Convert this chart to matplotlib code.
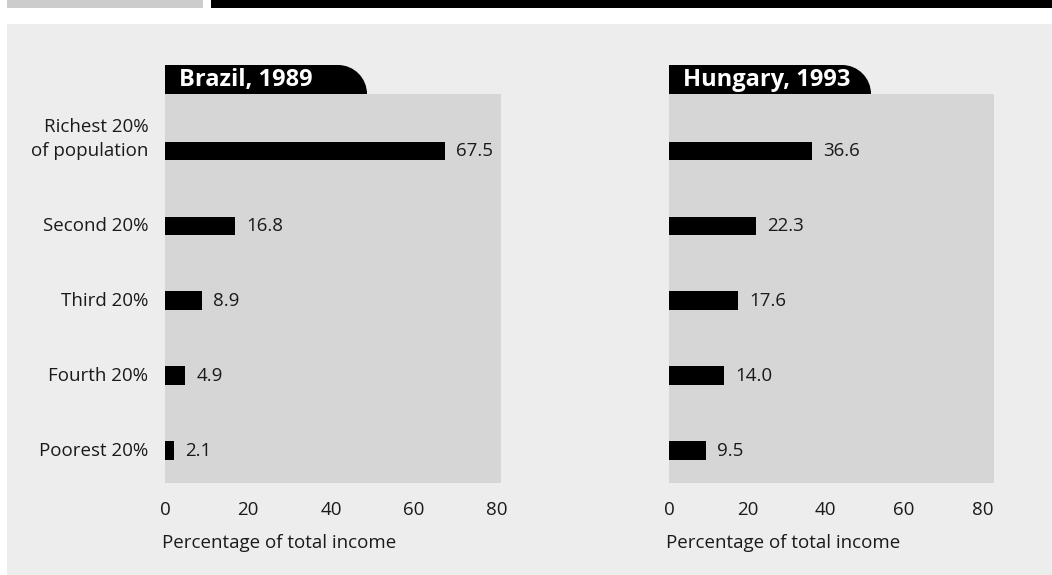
import matplotlib
matplotlib.use("Agg")
import matplotlib.pyplot as plt
from matplotlib.path import Path
from matplotlib.patches import PathPatch, Rectangle
from matplotlib.transforms import Affine2D, blended_transform_factory

# Income share by population quintile
categories = ["Richest 20%\nof population", "Second 20%", "Third 20%", "Fourth 20%", "Poorest 20%"]
brazil_1989 = [67.5, 16.8, 8.9, 4.9, 2.1]
hungary_1993 = [36.6, 22.3, 17.6, 14.0, 9.5]
panel_titles = ["Brazil, 1989", "Hungary, 1993"]
x_ticks = [0, 20, 40, 60, 80]
x_label = "Percentage of total income"

W, H = 1052, 575
FONT = ["Open Sans", "DejaVu Sans"]
plt.rcParams["font.family"] = FONT

PANEL_BG = "#ededed"
PLOT_BG = "#d6d6d6"
TEXT = "#1a1a1a"
FS = 13.5

fig = plt.figure(figsize=(W / 100, H / 100), dpi=100)
fig.patch.set_facecolor("white")

px = Affine2D().scale(1 / W, 1 / H) + fig.transFigure  # pixel units, origin bottom-left


def top_px(y):
    return H - y


# Header strip and background panel (behind the axes)
for rect in [Rectangle((7, top_px(8)), 196, 8, facecolor="#cccccc"),
             Rectangle((211, top_px(8)), W - 211, 8, facecolor="black"),
             Rectangle((7, top_px(575)), W - 7, 575 - 24, facecolor=PANEL_BG)]:
    rect.set_transform(px)
    rect.set_edgecolor("none")
    rect.set_zorder(-10)
    fig.patches.append(rect)

# Axes boxes (pixel extents)
boxes = [(165, 501, 94, 483, 81), (669, 994, 94, 483, 83)]
series = [brazil_1989, hungary_1993]
ypos = list(range(len(categories)))

for i, ((x0, x1, yt, yb, xmax), values, title) in enumerate(zip(boxes, series, panel_titles)):
    ax = fig.add_axes([x0 / W, (H - yb) / H, (x1 - x0) / W, (yb - yt) / H])
    ax.set_facecolor(PLOT_BG)
    ax.barh(ypos, values, height=0.25, color="black", zorder=3)
    ax.set_xlim(0, xmax)
    ax.set_ylim(4.43, -0.76)
    for s in ax.spines.values():
        s.set_visible(False)
    ax.set_xticks(x_ticks)
    ax.set_xticklabels([str(t) for t in x_ticks], fontsize=FS, color=TEXT)
    ax.tick_params(axis="x", length=0, pad=13)
    ax.set_yticks([])

    # Category labels: last line centred on the bar, earlier lines stacked above
    if i == 0:
        for y, label in zip(ypos, categories):
            lines = label.split("\n")
            n = len(lines)
            for j, line in enumerate(lines):
                ax.annotate(line, xy=(0, y), xycoords=("axes fraction", "data"),
                            xytext=(-12, (n - 1 - j) * 17.5), textcoords="offset points",
                            ha="right", va="center", fontsize=FS, color=TEXT)

    # Value labels
    for y, v in zip(ypos, values):
        ax.annotate(f"{v:.1f}", xy=(v, y), xytext=(8, 0), textcoords="offset points",
                    va="center", ha="left", fontsize=FS, color=TEXT, zorder=4)

    # Axis caption
    tr = blended_transform_factory(ax.transAxes, px)
    ax.text(-0.008, top_px(543), x_label, transform=tr, ha="left", va="center",
            fontsize=FS, color=TEXT)

    # Title tab with rounded top-right corner
    tab_w, tab_h, r = 202, 29, 29
    L, B = x0, top_px(yt)
    T = B + tab_h
    R = L + tab_w
    k = 0.5523 * r
    verts = [(L, B), (L, T), (R - r, T),
             (R - r + k, T), (R, B + k), (R, B),
             (L, B)]
    codes = [Path.MOVETO, Path.LINETO, Path.LINETO,
             Path.CURVE4, Path.CURVE4, Path.CURVE4,
             Path.CLOSEPOLY]
    tab = PathPatch(Path(verts, codes), transform=px, facecolor="black", edgecolor="none", zorder=5)
    fig.patches.append(tab)
    fig.text((L + 14) / W, (B + 8) / H, title, transform=fig.transFigure,
             color="white", fontsize=17, fontweight="bold", ha="left", va="baseline", zorder=6)

fig.savefig("out.png", dpi=100, facecolor=fig.get_facecolor())
